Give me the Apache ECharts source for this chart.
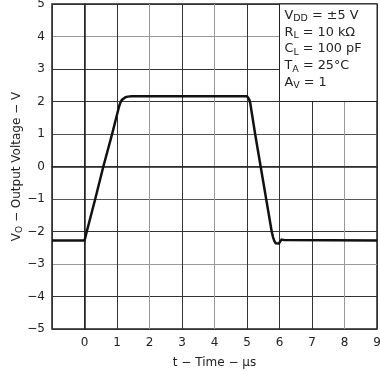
<!DOCTYPE html>
<html>
<head>
<meta charset="utf-8">
<script src="https://cdn.jsdelivr.net/npm/echarts@6/dist/echarts.min.js"></script>
<style>html,body{margin:0;padding:0;background:#fff}#c{width:380px;height:371px}</style>
</head>
<body>
<div id="c"></div>
<script>
const timeUs = [-1, 0, 0.07, 0.33, 0.58, 0.85, 1.07, 1.11, 1.15, 1.2, 1.26, 1.33, 1.45, 5.0, 5.04, 5.07, 5.1, 5.25, 5.42, 5.59, 5.76, 5.8, 5.84, 5.88, 5.93, 5.98, 6.02, 6.06, 6.1, 6.14, 6.2, 9];
const voltV  = [-2.28, -2.28, -2.0, -1, 0, 1, 1.87, 1.98, 2.05, 2.1, 2.13, 2.15, 2.16, 2.16, 2.13, 2.06, 1.95, 1, 0, -1, -2, -2.17, -2.29, -2.36, -2.39, -2.37, -2.31, -2.25, -2.23, -2.26, -2.28, -2.28];
const xTicks = [-1, 0, 1, 2, 3, 4, 5, 6, 7, 8, 9];
const yTicks = [-5, -4, -3, -2, -1, 0, 1, 2, 3, 4, 5];
const noteBox = { x: [6, 9], y: [2, 5] };
const noteLines = [
  ['V', 'DD', ' = \u00b15 V'],
  ['R', 'L', ' = 10 k\u03a9'],
  ['C', 'L', ' = 100 pF'],
  ['T', 'A', ' = 25\u00b0C'],
  ['A', 'V', ' = 1']
];

const minus = v => String(v).replace('-', '\u2212');
const F = '"DejaVu Sans", Arial, sans-serif';
const noteText = noteLines.map(l => '{a|' + l[0] + '}{s|' + l[1] + '}{a|' + l[2] + '}').join('\n');

const chart = echarts.init(document.getElementById('c'));
chart.setOption({
  animation: false,
  backgroundColor: '#fff',
  grid: { left: 52, right: 3, top: 4, bottom: 42, outerBoundsMode: 'none', containLabel: false,
    show: true, borderColor: '#222', borderWidth: 1.5, backgroundColor: 'transparent' },
  xAxis: {
    type: 'value', min: xTicks[0], max: xTicks[xTicks.length - 1], interval: 1,
    name: 't \u2212 Time \u2212 \u03bcs', nameLocation: 'middle', nameGap: 28, nameMoveOverlap: false,
    nameTextStyle: { fontFamily: F, fontSize: 12, color: '#222' },
    axisLine: { lineStyle: { color: '#222', width: 1.5 } },
    axisTick: { show: false },
    axisLabel: { margin: 8, fontFamily: F, fontSize: 12, color: '#222',
      formatter: v => v === xTicks[0] ? '' : minus(v) },
    splitLine: { show: true, lineStyle: { width: 1, color: ['#333', '#333', '#333', '#999', '#333', '#999', '#333', '#333', '#333', '#999', '#333'] } }
  },
  yAxis: {
    type: 'value', min: yTicks[0], max: yTicks[yTicks.length - 1], interval: 1,
    name: '{a|V}{s|O}{a| \u2212 Output Voltage \u2212 V}', nameLocation: 'middle', nameGap: 28, nameMoveOverlap: false,
    nameTextStyle: { fontFamily: F, fontSize: 12, color: '#222',
      rich: { a: { fontFamily: F, fontSize: 12, color: '#222' },
              s: { fontFamily: F, fontSize: 9, color: '#222', verticalAlign: 'bottom', padding: [5, 0, 0, 0] } } },
    axisLine: { lineStyle: { color: '#222', width: 1.5 } },
    axisTick: { show: false },
    axisLabel: { margin: 7, fontFamily: F, fontSize: 12, color: '#222', formatter: v => minus(v) },
    splitLine: { show: true, lineStyle: { width: 1, color: ['#333', '#333', '#999', '#333', '#555', '#555', '#555', '#333', '#333', '#999', '#333'] } }
  },
  series: [{
    type: 'line',
    data: timeUs.map((t, i) => [t, voltV[i]]),
    showSymbol: false,
    smooth: false,
    lineStyle: { color: '#111', width: 2.5, join: 'round' },
    z: 5,
    markArea: {
      silent: true,
      itemStyle: { color: '#fff', borderColor: '#222', borderWidth: 1 },
      label: { show: false },
      data: [[{ xAxis: noteBox.x[0], yAxis: noteBox.y[1] }, { xAxis: noteBox.x[1], yAxis: noteBox.y[0] }]]
    }
  }]
});

const p = chart.convertToPixel({ gridIndex: 0 }, [noteBox.x[0], noteBox.y[1]]);
chart.setOption({
  graphic: [{
    type: 'text', x: p[0] + 5, y: p[1] + 3, z: 100,
    style: {
      text: noteText, fontFamily: F, fontSize: 12.8, fill: '#222', lineHeight: 16.8,
      rich: { a: { fontFamily: F, fontSize: 12.8, fill: '#222', lineHeight: 16.8 },
              s: { fontFamily: F, fontSize: 9.5, fill: '#222', lineHeight: 16.8, verticalAlign: 'bottom', padding: [5, 0, 0, 0] } }
    }
  }]
});
</script>
</body>
</html>
